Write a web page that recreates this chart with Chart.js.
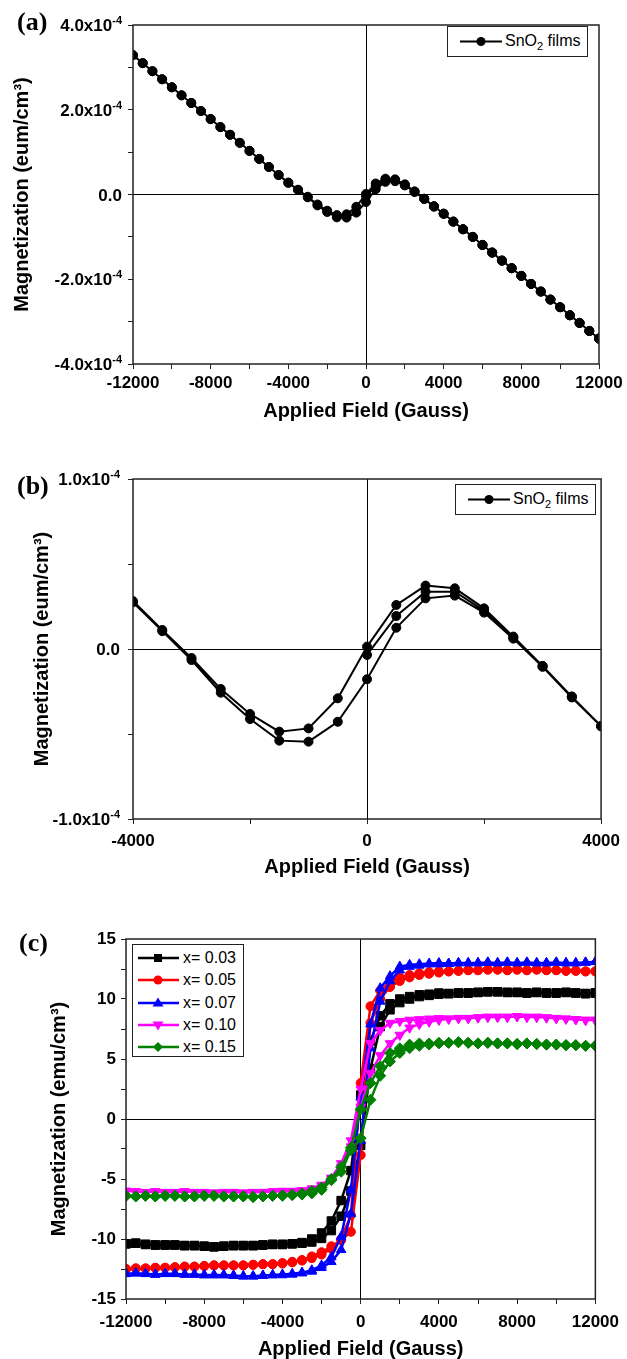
<!DOCTYPE html>
<html>
<head>
<meta charset="utf-8">
<script src="https://cdn.jsdelivr.net/npm/chart.js@4.4.1/dist/chart.umd.min.js"></script>
<style>
  body { margin: 0; width: 627px; height: 1359px; overflow: hidden; background: #fff; position: relative;
         font-family: "Liberation Sans", Arial, sans-serif; }
  canvas { position: absolute; left: 0; }
  .tag { position: absolute; font: bold 26px/26px "Liberation Serif", "Times New Roman", serif; color: #000; }
  .legend { position: absolute; border: 1px solid #222; background: #fff; box-sizing: border-box; }
  .legend svg { position: absolute; }
  .lt { position: absolute; font-size: 16px; line-height: 20px; white-space: nowrap; color: #000; }
  .lt sub { font-size: 11px; vertical-align: -4px; line-height: 0; }
</style>
</head>
<body>
<canvas id="ca" width="627" height="430" style="top:0px"></canvas>
<canvas id="cb" width="627" height="450" style="top:440px"></canvas>
<canvas id="cc" width="627" height="465" style="top:900px"></canvas>

<div class="tag" style="left:17px;top:9px">(a)</div>
<div class="tag" style="left:17px;top:473px">(b)</div>
<div class="tag" style="left:19px;top:930px">(c)</div>

<div class="legend" style="left:447px;top:26px;width:141px;height:31px">
  <svg style="left:12px;top:0" width="42" height="29"><line x1="0" y1="14.5" x2="42" y2="14.5" stroke="#000" stroke-width="2"/><circle cx="21" cy="14.5" r="4.5" fill="#000"/></svg>
  <span class="lt" style="left:57px;top:4px">SnO<sub>2</sub> films</span>
</div>
<div class="legend" style="left:455px;top:484px;width:141px;height:31px">
  <svg style="left:12px;top:0" width="42" height="29"><line x1="0" y1="14.5" x2="42" y2="14.5" stroke="#000" stroke-width="2"/><circle cx="21" cy="14.5" r="4.5" fill="#000"/></svg>
  <span class="lt" style="left:57px;top:4px">SnO<sub>2</sub> films</span>
</div>
<div class="legend" id="legC" style="left:132px;top:944px;width:112px;height:113px"></div>

<script>
// applied field grid (Gauss)
const fieldH = [-12000, -11500, -11000, -10500, -10000, -9500, -9000, -8500, -8000, -7500, -7000, -6500,
  -6000, -5500, -5000, -4500, -4000, -3500, -3000, -2500, -2000, -1500, -1000, -500, 0,
  500, 1000, 1500, 2000, 2500, 3000, 3500, 4000, 4500, 5000, 5500, 6000, 6500, 7000, 7500,
  8000, 8500, 9000, 9500, 10000, 10500, 11000, 11500, 12000];

// SnO2 films, in units of 1e-4 eum/cm3
// -12000..-4500
const snNeg = [3.29, 3.10, 2.91, 2.72, 2.53, 2.34, 2.16, 1.97, 1.78, 1.59, 1.41, 1.22, 1.03, 0.84, 0.65, 0.46];
// -4000..4000
const snDescMid = [0.282, 0.112, -0.053, -0.235, -0.382, -0.486, -0.467, -0.29, 0.014, 0.259, 0.373, 0.357, 0.239, 0.073, -0.10, -0.28, -0.453];
const snAscMid = [0.275, 0.105, -0.065, -0.257, -0.412, -0.539, -0.545, -0.428, -0.178, 0.125, 0.298, 0.314, 0.214, 0.061, -0.105, -0.285, -0.455];
// 0..4000 (first sweep)
const snVirgin = [-0.035, 0.194, 0.337, 0.337, 0.225, 0.067, -0.10, -0.28, -0.453];
// 4500..12000
const snPos = [-0.64, -0.82, -1.00, -1.19, -1.37, -1.56, -1.74, -1.92, -2.11, -2.29, -2.48, -2.66, -2.85, -3.03, -3.22, -3.40];

// doped films (emu/cm3): Neg = -12000..-4500, Asc/Desc = -4000..4000, Pos = 4500..12000
const blkNeg = [-10.4, -10.35, -10.45, -10.5, -10.5, -10.5, -10.55, -10.55, -10.6, -10.65, -10.6, -10.55, -10.55, -10.55, -10.5, -10.45];
const blkAsc = [-10.45, -10.4, -10.35, -10.25, -9.95, -9.3, -8.1, -6.0, -2.2, 4.2, 7.7, 9.1, 9.7, 10.0, 10.2, 10.3, 10.4];
const blkDesc = [-10.45, -10.4, -10.3, -10.0, -9.5, -8.5, -6.8, -4.3, 2.0, 6.5, 8.6, 9.6, 10.0, 10.2, 10.35, 10.4, 10.5];
const blkPos = [10.45, 10.5, 10.5, 10.55, 10.6, 10.6, 10.55, 10.55, 10.5, 10.55, 10.5, 10.5, 10.55, 10.5, 10.45, 10.5];

const redNeg = [-12.5, -12.45, -12.45, -12.4, -12.4, -12.35, -12.3, -12.3, -12.25, -12.2, -12.2, -12.2, -12.2, -12.15, -12.1, -12.1];
const redAsc = [-12.05, -11.95, -11.75, -11.45, -11.1, -10.6, -10.1, -9.4, -3.0, 8.0, 10.0, 11.0, 11.5, 11.8, 12.0, 12.1, 12.2];
const redDesc = [-12.0, -11.9, -11.8, -11.6, -11.3, -10.8, -10.0, -8.0, 3.0, 9.4, 10.7, 11.4, 11.8, 12.0, 12.15, 12.25, 12.3];
const redPos = [12.3, 12.35, 12.4, 12.4, 12.45, 12.45, 12.4, 12.45, 12.4, 12.45, 12.4, 12.4, 12.35, 12.35, 12.3, 12.3];

const bluNeg = [-12.9, -12.85, -12.9, -12.95, -12.9, -12.9, -12.95, -12.95, -13.0, -13.0, -13.0, -13.05, -13.1, -13.1, -13.05, -13.0];
const bluAsc = [-13.0, -12.95, -12.85, -12.7, -12.4, -11.9, -10.9, -7.9, -1.8, 5.9, 9.8, 11.5, 12.4, 12.7, 12.8, 12.9, 12.9];
const bluDesc = [-12.95, -12.9, -12.8, -12.6, -12.2, -11.5, -9.8, -5.9, 1.8, 7.9, 10.9, 11.9, 12.7, 12.85, 12.9, 12.95, 13.0];
const bluPos = [12.95, 13.0, 13.0, 13.0, 13.05, 13.0, 13.05, 13.0, 13.05, 13.0, 13.0, 13.05, 13.0, 13.0, 13.05, 13.1];

const magNeg = [-6.0, -6.05, -6.1, -6.05, -6.1, -6.1, -6.05, -6.1, -6.1, -6.15, -6.1, -6.1, -6.15, -6.1, -6.1, -6.05];
const magAsc = [-6.05, -6.05, -6.0, -5.9, -5.6, -5.0, -4.0, -2.3, 1.0, 3.8, 5.3, 6.3, 7.0, 7.6, 7.9, 8.1, 8.25];
const magDesc = [-6.0, -6.0, -5.95, -5.8, -5.5, -4.9, -3.7, -1.8, 2.5, 6.3, 7.4, 8.0, 8.15, 8.25, 8.3, 8.35, 8.4];
const magPos = [8.35, 8.4, 8.4, 8.45, 8.5, 8.5, 8.5, 8.55, 8.5, 8.5, 8.45, 8.4, 8.35, 8.3, 8.25, 8.25];

const grnNeg = [-6.4, -6.45, -6.4, -6.45, -6.4, -6.4, -6.45, -6.45, -6.4, -6.4, -6.45, -6.45, -6.45, -6.5, -6.45, -6.4];
const grnAsc = [-6.4, -6.35, -6.3, -6.2, -5.9, -5.1, -4.4, -2.6, -1.6, 1.6, 3.6, 4.8, 5.5, 5.9, 6.1, 6.2, 6.3];
const grnDesc = [-6.35, -6.3, -6.2, -6.0, -5.7, -5.0, -4.0, -2.4, 0.8, 3.0, 4.4, 5.5, 5.9, 6.2, 6.3, 6.3, 6.35];
const grnPos = [6.35, 6.4, 6.35, 6.3, 6.35, 6.3, 6.3, 6.25, 6.3, 6.25, 6.2, 6.2, 6.15, 6.15, 6.1, 6.1];

const labelsC = ['x= 0.03', 'x= 0.05', 'x= 0.07', 'x= 0.10', 'x= 0.15'];

function pts(vals, start, k) {
  return vals.map((v, i) => ({ x: fieldH[start + i], y: v * k }));
}
function branch(neg, mid, pos, k) {
  return pts(neg.concat(mid, pos), 0, k);
}

// box round the plot area
const frame = {
  id: 'frame',
  afterDraw(chart) {
    const { ctx, chartArea: a } = chart;
    ctx.save();
    ctx.strokeStyle = '#222';
    ctx.lineWidth = 1.5;
    ctx.strokeRect(a.left, a.top, a.right - a.left, a.bottom - a.top);
    ctx.restore();
  }
};

// y labels like 2.0x10^-4
const supTicks = {
  id: 'supTicks',
  afterDraw(chart, args, opts) {
    if (!opts.on) return;
    const s = chart.scales.y, ctx = chart.ctx;
    const xr = chart.chartArea.left - opts.gap;
    ctx.save();
    ctx.fillStyle = '#000';
    ctx.textBaseline = 'alphabetic';
    ctx.textAlign = 'left';
    s.ticks.forEach(t => {
      const m = Math.round(t.value * 1e5) / 10;
      if (Math.abs(m / opts.major - Math.round(m / opts.major)) > 1e-6) return;
      const y = s.getPixelForValue(t.value);
      if (Math.abs(m) < 1e-9) {
        ctx.font = 'bold 17px "Liberation Sans", Arial, sans-serif';
        const w = ctx.measureText('0.0').width;
        ctx.fillText('0.0', xr - w, y + 6);
        return;
      }
      const base = m.toFixed(1) + 'x10';
      ctx.font = 'bold 11px "Liberation Sans", Arial, sans-serif';
      const ws = ctx.measureText('-4').width;
      ctx.font = 'bold 17px "Liberation Sans", Arial, sans-serif';
      const wb = ctx.measureText(base).width;
      ctx.fillText(base, xr - ws - wb, y + 6);
      ctx.font = 'bold 11px "Liberation Sans", Arial, sans-serif';
      ctx.fillText('-4', xr - ws, y - 1);
    });
    ctx.restore();
  }
};

const axisFont = { family: '"Liberation Sans", Arial, sans-serif', size: 17, weight: 'bold' };
const titleFont = { family: '"Liberation Sans", Arial, sans-serif', size: 20, weight: 'bold' };
const isZero = v => Math.abs(v) < 1e-12;

function panel(id, cfg) {
  return new Chart(document.getElementById(id), {
    type: 'scatter',
    data: { datasets: cfg.datasets },
    options: {
      responsive: false,
      animation: false,
      devicePixelRatio: 1,
      layout: { padding: { top: cfg.padTop, right: cfg.padRight, bottom: 0, left: 0 } },
      plugins: {
        legend: { display: false },
        tooltip: { enabled: false },
        supTicks: cfg.sup || { on: false }
      },
      scales: {
        x: {
          type: 'linear', min: cfg.xMin, max: cfg.xMax,
          afterFit: s => { s.height = cfg.xHeight; },
          ticks: {
            stepSize: cfg.xStep, maxTicksLimit: 100, autoSkip: false, maxRotation: 0,
            padding: cfg.xTickPad, font: axisFont, color: '#000',
            callback: v => (v % cfg.xMajor === 0 ? String(v) : '')
          },
          grid: {
            drawOnChartArea: true, tickLength: 5, lineWidth: 1, tickColor: '#222',
            color: c => (c.tick && isZero(c.tick.value) ? '#000' : 'rgba(0,0,0,0)')
          },
          border: { display: false },
          title: {
            display: true, text: 'Applied Field (Gauss)', font: titleFont, color: '#000',
            padding: { top: 0, bottom: cfg.xTitlePad }
          }
        },
        y: {
          type: 'linear', min: cfg.yMin, max: cfg.yMax,
          afterFit: s => { s.width = cfg.yWidth; },
          ticks: {
            stepSize: cfg.yStep, maxTicksLimit: 100, autoSkip: false,
            padding: cfg.yTickPad, font: axisFont, color: '#000',
            callback: cfg.yLabel
          },
          grid: {
            drawOnChartArea: true, tickLength: 5, lineWidth: 1, tickColor: '#222',
            color: c => (c.tick && isZero(c.tick.value) ? '#000' : 'rgba(0,0,0,0)')
          },
          border: { display: false },
          title: {
            display: true, text: cfg.yTitle, font: titleFont, color: '#000',
            padding: { top: cfg.yTitlePad, bottom: 0 }
          }
        }
      }
    },
    plugins: [frame, supTicks]
  });
}

// SnO2 sweep: 0 -> +12000 -> -12000 -> +12000
function snData() {
  const first = pts(snVirgin.concat(snPos), 24, 1e-4);
  const down = branch(snNeg, snDescMid, snPos, 1e-4).reverse();
  const up = branch(snNeg, snAscMid, snPos, 1e-4);
  return first.concat(down, up);
}
function snSet() {
  return {
    data: snData(), showLine: true, borderColor: '#000', borderWidth: 2,
    pointRadius: 4.5, pointBackgroundColor: '#000', pointBorderColor: '#000', pointBorderWidth: 1
  };
}

panel('ca', {
  datasets: [snSet()],
  padTop: 25, padRight: 28, xHeight: 66, yWidth: 133,
  xMin: -12000, xMax: 12000, xStep: 2000, xMajor: 4000, xTickPad: 4, xTitlePad: 7,
  yMin: -4e-4, yMax: 4e-4, yStep: 1e-4, yTickPad: 6, yTitlePad: 10,
  yLabel: () => '', yTitle: 'Magnetization (eum/cm\u00b3)',
  sup: { on: true, major: 2, gap: 11 }
});

panel('cb', {
  datasets: [snSet()],
  padTop: 39, padRight: 25, xHeight: 71, yWidth: 133,
  xMin: -4000, xMax: 4000, xStep: 2000, xMajor: 4000, xTickPad: 7, xTitlePad: 11,
  yMin: -1e-4, yMax: 1e-4, yStep: 5e-5, yTickPad: 6, yTitlePad: 30,
  yLabel: () => '', yTitle: 'Magnetization (eum/cm\u00b3)',
  sup: { on: true, major: 1, gap: 13 }
});

const seriesC = [
  { label: labelsC[0], color: '#000000', style: 'rect', r: 6, rot: 0, v: [blkNeg, blkAsc, blkDesc, blkPos] },
  { label: labelsC[1], color: '#ff0000', style: 'circle', r: 4.5, rot: 0, v: [redNeg, redAsc, redDesc, redPos] },
  { label: labelsC[2], color: '#0000ff', style: 'triangle', r: 5.5, rot: 0, v: [bluNeg, bluAsc, bluDesc, bluPos] },
  { label: labelsC[3], color: '#ff00ff', style: 'triangle', r: 5.5, rot: 180, v: [magNeg, magAsc, magDesc, magPos] },
  { label: labelsC[4], color: '#008000', style: 'rectRot', r: 5.5, rot: 0, v: [grnNeg, grnAsc, grnDesc, grnPos] }
];

const setsC = seriesC.map((s, i) => {
  const [neg, asc, desc, pos] = s.v;
  const down = branch(neg, desc, pos, 1).reverse();
  const up = branch(neg, asc, pos, 1);
  return {
    label: s.label, data: down.concat(up), showLine: true, order: 5 - i,
    borderColor: s.color, borderWidth: 2.5, pointStyle: s.style, pointRadius: s.r, pointRotation: s.rot,
    pointBackgroundColor: s.color, pointBorderColor: s.color, pointBorderWidth: 1
  };
});

panel('cc', {
  datasets: setsC,
  padTop: 39, padRight: 24, xHeight: 66, yWidth: 126,
  xMin: -12000, xMax: 12000, xStep: 2000, xMajor: 4000, xTickPad: 8, xTitlePad: 3.5,
  yMin: -15, yMax: 15, yStep: 2.5, yTickPad: 5, yTitlePad: 47,
  yLabel: v => (v % 5 === 0 ? String(v) : ''), yTitle: 'Magnetization (emu/cm\u00b3)'
});

// legend for panel (c)
const legC = document.getElementById('legC');
const shapes = {
  rect: c => `<rect x="16" y="7" width="8" height="8" fill="${c}"/>`,
  circle: c => `<circle cx="20" cy="11" r="4.5" fill="${c}"/>`,
  triangle: c => `<polygon points="20,5.5 25.5,14.5 14.5,14.5" fill="${c}"/>`,
  down: c => `<polygon points="20,16.5 25.5,7.5 14.5,7.5" fill="${c}"/>`,
  rectRot: c => `<polygon points="20,6 25,11 20,16 15,11" fill="${c}"/>`
};
seriesC.forEach((s, i) => {
  const top = 2 + i * 22.3;
  const key = s.rot === 180 ? 'down' : s.style;
  legC.insertAdjacentHTML('beforeend',
    `<svg style="left:5px;top:${top}px" width="41" height="22"><line x1="0" y1="11" x2="41" y2="11" stroke="${s.color}" stroke-width="2.5"/>${shapes[key](s.color)}</svg>` +
    `<span class="lt" style="left:50px;top:${top + 1}px">${s.label}</span>`);
});
</script>
</body>
</html>
